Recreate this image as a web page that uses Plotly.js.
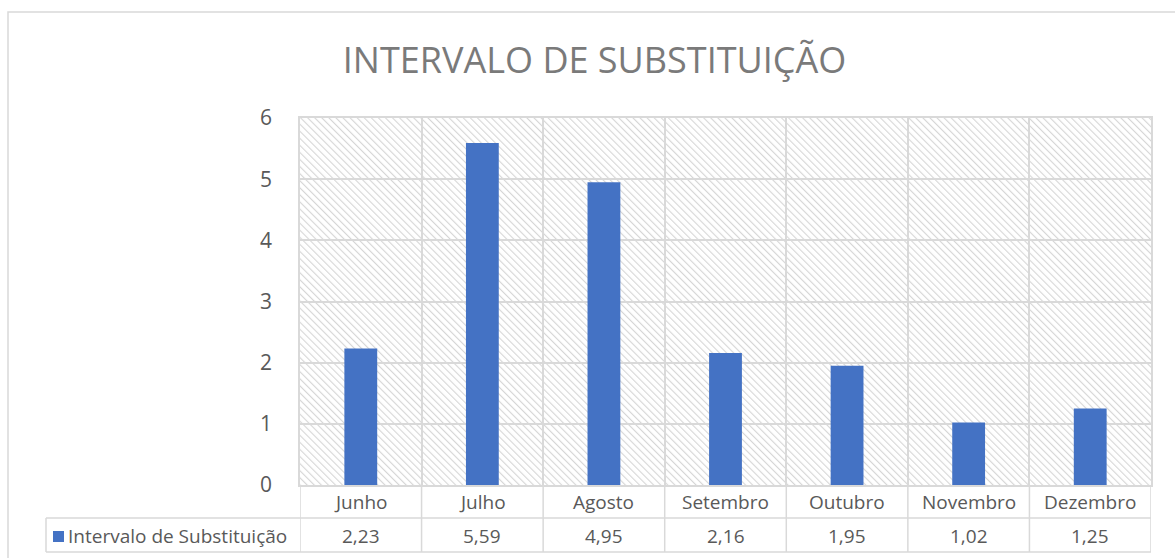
<!DOCTYPE html>
<html>
<head>
<meta charset="utf-8">
<script src="https://cdn.plot.ly/plotly-3.0.1.min.js"></script>
<style>html,body{margin:0;padding:0;background:#fff;}#chart{width:1175px;height:558px;}</style>
</head>
<body>
<div id="chart"></div>
<script>
const categories = ["Junho", "Julho", "Agosto", "Setembro", "Outubro", "Novembro", "Dezembro"];
const values = [2.23, 5.59, 4.95, 2.16, 1.95, 1.02, 1.25];
const valueLabels = ["2,23", "5,59", "4,95", "2,16", "1,95", "1,02", "1,25"];
const seriesName = "Intervalo de Substituição";
const chartTitle = "INTERVALO DE SUBSTITUIÇÃO";

const W = 1175, H = 558;
const M = {l: 300, r: 24, t: 118, b: 73};
const PW = W - M.l - M.r, PH = H - M.t - M.b;
const px = x => (x - M.l) / PW;            // pixel x -> paper x
const py = y => (H - M.b - y) / PH;        // pixel y -> paper y

const gridC = "#d9d9d9";
const textC = "#595959";
const font = "'Open Sans', 'Noto Sans', sans-serif";

// Hatch pattern background image
const svg = `<svg xmlns="http://www.w3.org/2000/svg" width="${PW}" height="${PH}">
<defs><pattern id="p" width="5" height="5" patternUnits="userSpaceOnUse" patternTransform="rotate(-45)">
<rect width="5" height="5" fill="#ffffff"/><line x1="0" y1="0" x2="0" y2="5" stroke="#d6d6d6" stroke-width="2.2"/>
</pattern></defs><rect width="${PW}" height="${PH}" fill="url(#p)"/></svg>`;
const svgUri = "data:image/svg+xml;charset=utf-8," + encodeURIComponent(svg);

const shapes = [];
const annotations = [];
// outer chart border
shapes.push({type: "rect", xref: "paper", yref: "paper", x0: px(8), x1: px(1190), y0: py(12), y1: py(575),
  line: {color: gridC, width: 1.5}, fillcolor: "rgba(0,0,0,0)"});
// table horizontal lines
[518, 552].forEach(y => shapes.push({type: "line", xref: "paper", yref: "paper", x0: px(46), x1: 1, y0: py(y), y1: py(y), line: {color: gridC, width: 1.5}}));
// table vertical lines
for (let i = 0; i <= categories.length; i++) {
  shapes.push({type: "line", xref: "x", yref: "paper", x0: i - 0.5, x1: i - 0.5, y0: 0, y1: py(552), line: {color: gridC, width: 1.5}});
}
shapes.push({type: "line", xref: "paper", yref: "paper", x0: px(46), x1: px(46), y0: py(518), y1: py(552), line: {color: gridC, width: 1.5}});
// legend key
shapes.push({type: "rect", xref: "paper", yref: "paper", x0: px(53), x1: px(64), y0: py(531), y1: py(542), line: {width: 0}, fillcolor: "#4472C4"});

const tf = {family: font, size: 19, color: textC};
categories.forEach((c, i) => {
  annotations.push({xref: "x", yref: "paper", x: i, y: py(502), text: c, showarrow: false, xanchor: "center", yanchor: "middle", font: tf});
  annotations.push({xref: "x", yref: "paper", x: i, y: py(536), text: valueLabels[i], showarrow: false, xanchor: "center", yanchor: "middle", font: tf});
});
annotations.push({xref: "paper", yref: "paper", x: px(66), y: py(536), text: seriesName, showarrow: false, xanchor: "left", yanchor: "middle", font: tf});

const trace = {
  type: "bar", x: categories, y: values, name: seriesName,
  marker: {color: "#4472C4"}, width: 0.27, hoverinfo: "x+y"
};

const layout = {
  width: W, height: H,
  margin: {l: M.l, r: M.r, t: M.t, b: M.b, pad: 0},
  paper_bgcolor: "#ffffff", plot_bgcolor: "rgba(0,0,0,0)",
  showlegend: false,
  title: {text: chartTitle, x: 0.506, xanchor: "center", y: 1 - 60 / H, yanchor: "middle",
    font: {family: font, size: 36, color: "#7a7a7a", weight: 400}},
  xaxis: {type: "category", range: [-0.5, categories.length - 0.5], showticklabels: false, ticks: "",
    showgrid: true, tickson: "boundaries", gridcolor: gridC, gridwidth: 1.5,
    showline: true, mirror: true, linecolor: gridC, linewidth: 1.5, zeroline: false, fixedrange: true},
  yaxis: {range: [0, 6], dtick: 1, tick0: 0, showgrid: true, gridcolor: gridC, gridwidth: 1.5,
    showline: true, mirror: true, linecolor: gridC, linewidth: 1.5, zeroline: false, ticks: "",
    ticklabelstandoff: 22, tickfont: {family: font, size: 21, color: textC}, fixedrange: true},
  images: [{source: svgUri, xref: "paper", yref: "paper", x: 0, y: 1, sizex: 1, sizey: 1,
    sizing: "stretch", xanchor: "left", yanchor: "top", layer: "below"}],
  shapes: shapes,
  annotations: annotations
};

Plotly.newPlot("chart", [trace], layout, {displayModeBar: false, staticPlot: false});
</script>
</body>
</html>
